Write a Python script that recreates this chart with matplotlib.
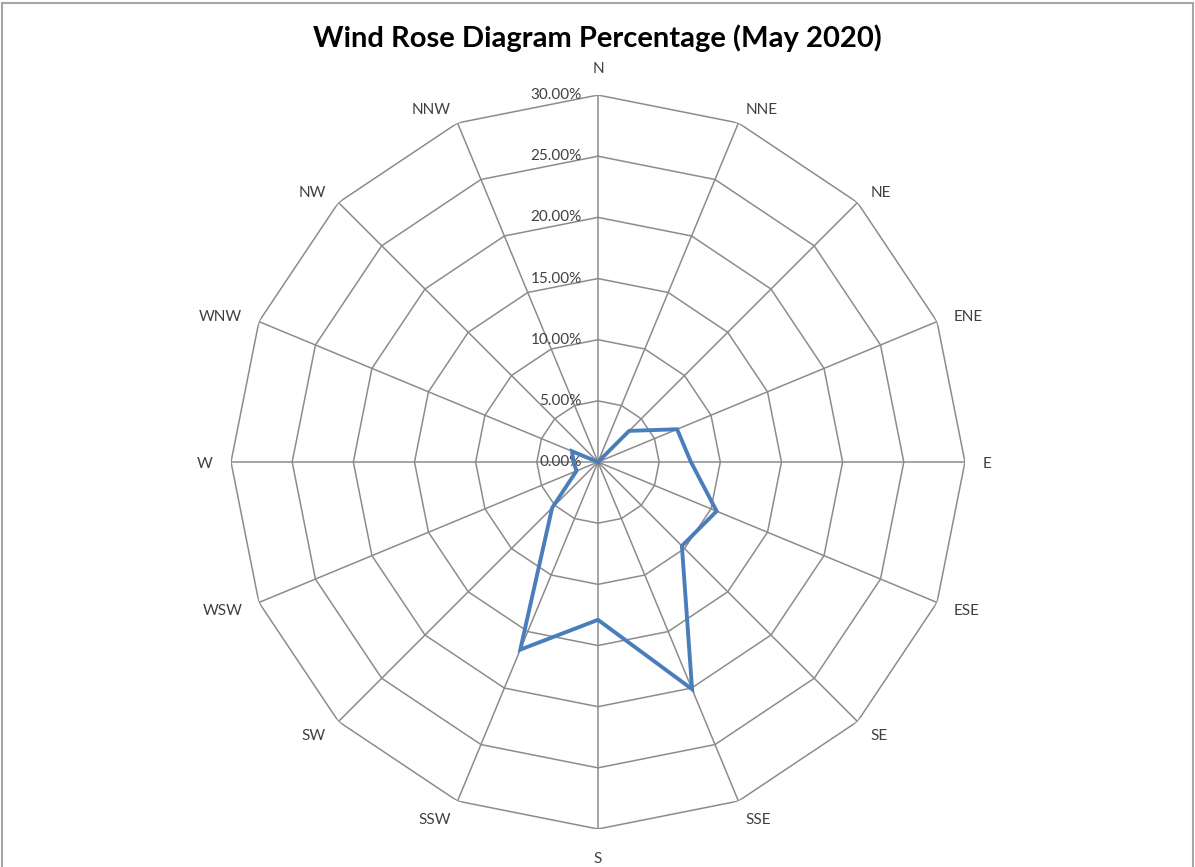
import numpy as np
import matplotlib
matplotlib.use('Agg')
import matplotlib.pyplot as plt
from matplotlib.patches import Rectangle

# ── data ──────────────────────────────────────────────────────────────────────
directions = ['N', 'NNE', 'NE', 'ENE', 'E', 'ESE', 'SE', 'SSE',
              'S', 'SSW', 'SW', 'WSW', 'W', 'WNW', 'NW', 'NNW']
percentages = [0.0, 0.0, 3.6, 7.0, 7.6, 10.5, 9.7, 20.1,
               12.9, 16.6, 5.3, 1.9, 2.0, 2.3, 0.0, 0.0]
ring_values = [0, 5, 10, 15, 20, 25, 30]
ring_labels = ['0.00%', '5.00%', '10.00%', '15.00%', '20.00%', '25.00%', '30.00%']
title = 'Wind Rose Diagram Percentage (May 2020)'
# ─────────────────────────────────────────────────────────────────────────────

plt.rcParams['font.family'] = ['Lato', 'DejaVu Sans']

GRID_COLOR = '#8c8c8c'
LINE_COLOR = '#4a7ebb'
TEXT_COLOR = '#404040'

n = len(directions)
theta = np.linspace(0, 2 * np.pi, n, endpoint=False)
theta_closed = np.append(theta, theta[0])

fig = plt.figure(figsize=(11.95, 8.67), dpi=100)
ax = fig.add_axes([0.1933, 0.0438, 0.6142, 0.8466], projection='polar')
ax.set_theta_zero_location('N')
ax.set_theta_direction(-1)
ax.set_ylim(0, 30)
ax.grid(False)
ax.set_xticks([])
ax.set_yticks([])
ax.spines['polar'].set_visible(False)
ax.patch.set_alpha(0)

# polygon rings (straight segments, Excel style)
for rv in ring_values[1:]:
    ax.plot(theta_closed, [rv] * (n + 1), color=GRID_COLOR, lw=1.1, zorder=1)
# spokes
for t in theta:
    ax.plot([t, t], [0, 30], color=GRID_COLOR, lw=1.1, zorder=1)

# series
vals = np.append(percentages, percentages[0])
ax.plot(theta_closed, vals, color=LINE_COLOR, lw=2.8, zorder=3,
        solid_joinstyle='miter')

# radial value labels
for rv, lab in zip(ring_values, ring_labels):
    ax.annotate(lab, xy=(0, rv), xytext=(-16, 0), textcoords='offset pixels',
                ha='right', va='center', fontsize=11, color=TEXT_COLOR, zorder=2)

# direction labels, placed just outside the outer ring like Excel does
gap = 18
for t, d in zip(theta, directions):
    s, c = np.sin(t), np.cos(t)
    if abs(s) < 0.01:
        ha = 'center'
        va = 'bottom' if c > 0 else 'top'
        off = (0, 21 * np.sign(c) - 2)
    else:
        ha = 'left' if s > 0 else 'right'
        va = 'center'
        off = (gap * s, gap * c - 2 - 1.5 * max(c, 0))
    ax.annotate(d, xy=(t, 30), xytext=off, textcoords='offset pixels',
                ha=ha, va=va, fontsize=11, color=TEXT_COLOR)

fig.text(0.5, 0.956, title, ha='center', va='center', fontsize=21,
         fontweight='bold', color='black')

# chart-area border
fig.patches.append(Rectangle((1.5 / 1195, -0.05), 1191.5 / 1195, 1.05 - 3 / 867,
                             transform=fig.transFigure, fill=False,
                             edgecolor='#a6a6a6', lw=1.5))

fig.savefig('out.png', dpi=100)
